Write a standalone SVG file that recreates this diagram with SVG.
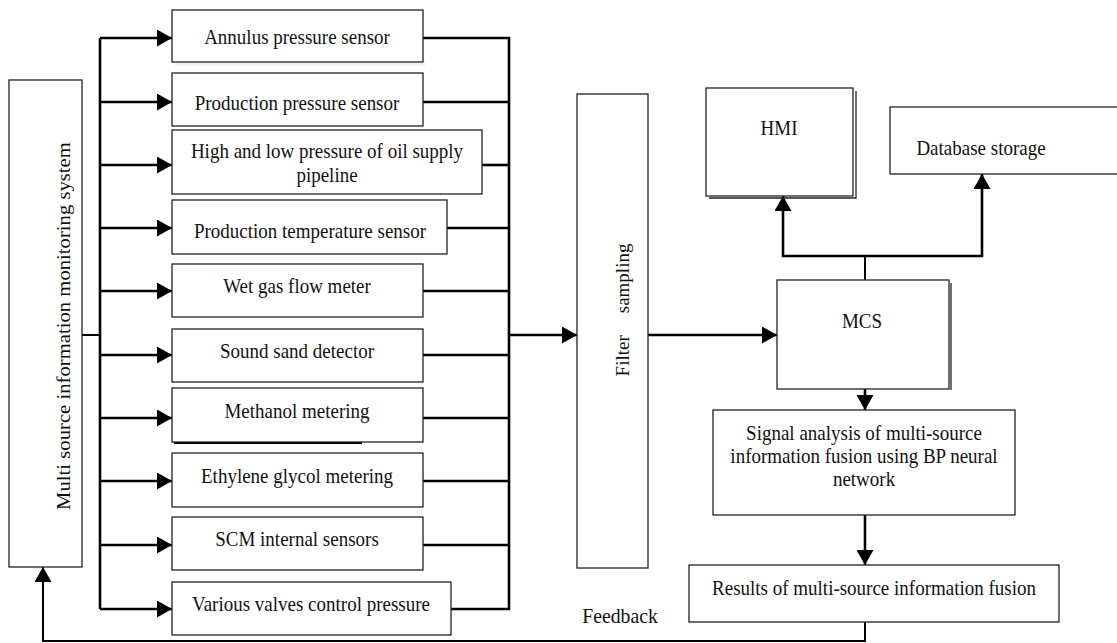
<svg xmlns="http://www.w3.org/2000/svg" width="1117" height="643" viewBox="0 0 1117 643">
  <defs>
    <marker id="arrow" markerUnits="userSpaceOnUse" markerWidth="16" markerHeight="17" refX="15" refY="8.5" orient="auto">
      <path d="M0,0 L15,8.5 L0,17 z" fill="#000"/>
    </marker>
    <style>
      .box { fill: #fff; stroke: #222; stroke-width: 1.3; }
      .shadow { fill: #eef2f8; stroke: none; }
      .lbl { font-size: 20.7px; fill: #111; text-anchor: middle; dominant-baseline: central; }
      .wire { fill: none; stroke: #000; stroke-width: 2.6; }
      .thin { fill: none; stroke: #000; stroke-width: 2; }
    </style>
  </defs>
  <rect width="1117" height="643" fill="#fff"/>

  <!-- connectors -->
  <g id="connectors">
    <!-- monitoring system to sensor trunk -->
    <path class="thin" d="M82,335 H100"/>
    <path class="wire" d="M100,38 V609"/>
    <path class="wire" marker-end="url(#arrow)" d="M100,38 H172"/>
    <path class="wire" marker-end="url(#arrow)" d="M100,102 H172"/>
    <path class="wire" marker-end="url(#arrow)" d="M100,165 H172"/>
    <path class="wire" marker-end="url(#arrow)" d="M100,228 H172"/>
    <path class="wire" marker-end="url(#arrow)" d="M100,291 H172"/>
    <path class="wire" marker-end="url(#arrow)" d="M100,355 H172"/>
    <path class="wire" marker-end="url(#arrow)" d="M100,418 H172"/>
    <path class="wire" marker-end="url(#arrow)" d="M100,481 H172"/>
    <path class="wire" marker-end="url(#arrow)" d="M100,545 H172"/>
    <path class="wire" marker-end="url(#arrow)" d="M100,609 H172"/>
    <!-- sensor outputs to collector trunk -->
    <path class="wire" d="M423,38 H509 V609 H451"/>
    <path class="wire" d="M423,102 H509"/>
    <path class="wire" d="M482,165 H509"/>
    <path class="wire" d="M447,228 H509"/>
    <path class="wire" d="M423,291 H509"/>
    <path class="wire" d="M423,355 H509"/>
    <path class="wire" d="M423,418 H509"/>
    <path class="wire" d="M423,481 H509"/>
    <path class="wire" d="M423,545 H509"/>
    <!-- collector to filter, filter to MCS -->
    <path class="wire" marker-end="url(#arrow)" d="M509,335 H577"/>
    <path class="wire" marker-end="url(#arrow)" d="M648,335 H777"/>
    <!-- MCS to HMI and database -->
    <path class="thin" d="M865,280 V256"/>
    <path class="wire" marker-end="url(#arrow)" d="M865,256 H783 V196"/>
    <path class="wire" marker-end="url(#arrow)" d="M865,256 H982 V174"/>
    <!-- MCS to analysis, analysis to results -->
    <path class="wire" marker-end="url(#arrow)" d="M865,389 V410"/>
    <path class="wire" marker-end="url(#arrow)" d="M865,515 V565"/>
    <!-- feedback loop -->
    <path class="thin" marker-end="url(#arrow)" d="M865,622 V641 H43 V567"/>
  </g>

  <!-- labels are set slightly condensed: scale(0.918,1) -->
  <g font-family="Liberation Serif, DejaVu Serif, serif">
  <!-- monitoring system -->
  <g id="monitoring-system">
    <rect class="box" x="9" y="80" width="73" height="487"/>
    <text class="lbl" transform="translate(63,326) rotate(-90) scale(1,0.918)">Multi source information monitoring system</text>
  </g>

  <!-- sensors -->
  <g id="annulus-pressure">
    <rect class="shadow" x="175" y="62" width="250" height="4"/>
    <rect class="box" x="172" y="10" width="251" height="52"/>
    <text class="lbl" transform="translate(297,37) scale(0.918,1)">Annulus pressure sensor</text>
  </g>
  <g id="production-pressure">
    <rect class="box" x="172" y="73" width="251" height="53"/>
    <text class="lbl" transform="translate(297,103) scale(0.918,1)">Production pressure sensor</text>
  </g>
  <g id="oil-supply-pressure">
    <rect class="box" x="172" y="130" width="310" height="64"/>
    <text class="lbl" transform="translate(327,151) scale(0.918,1)">High and low pressure of oil supply</text>
    <text class="lbl" transform="translate(327,175) scale(0.918,1)">pipeline</text>
  </g>
  <g id="production-temperature">
    <rect class="box" x="172" y="200" width="275" height="54"/>
    <text class="lbl" transform="translate(310,231) scale(0.918,1)">Production temperature sensor</text>
  </g>
  <g id="wet-gas-flow">
    <rect class="box" x="172" y="264" width="251" height="53"/>
    <text class="lbl" transform="translate(297,286) scale(0.918,1)">Wet gas flow meter</text>
  </g>
  <g id="sand-detector">
    <rect class="box" x="172" y="329" width="251" height="53"/>
    <text class="lbl" transform="translate(297,351) scale(0.918,1)">Sound sand detector</text>
  </g>
  <g id="methanol-metering">
    <path class="thin" d="M174,443 H362" stroke-width="1.6"/>
    <rect class="box" x="172" y="388" width="251" height="54"/>
    <text class="lbl" transform="translate(297,411) scale(0.918,1)">Methanol metering</text>
  </g>
  <g id="glycol-metering">
    <rect class="box" x="172" y="453" width="251" height="54"/>
    <text class="lbl" transform="translate(297,476) scale(0.918,1)">Ethylene glycol metering</text>
  </g>
  <g id="scm-sensors">
    <rect class="box" x="172" y="517" width="251" height="53"/>
    <text class="lbl" transform="translate(297,539) scale(0.918,1)">SCM internal sensors</text>
  </g>
  <g id="valve-pressure">
    <rect class="box" x="172" y="582" width="279" height="53"/>
    <text class="lbl" transform="translate(311,604) scale(0.918,1)">Various valves control pressure</text>
  </g>

  <!-- filter sampling -->
  <g id="filter-sampling">
    <rect class="box" x="577" y="94" width="71" height="474"/>
    <text class="lbl" style="font-size:19px" transform="translate(622,310) rotate(-90)">Filter<tspan dx="22">sampling</tspan></text>
  </g>

  <!-- MCS -->
  <g id="mcs">
    <path d="M951,283 V390" stroke="#222" stroke-width="1.3" fill="none"/>
    <rect class="box" x="777" y="280" width="172" height="109"/>
    <text class="lbl" transform="translate(862,321) scale(0.918,1)">MCS</text>
  </g>

  <!-- HMI -->
  <g id="hmi">
    <path d="M856,91 V198 H709" stroke="#222" stroke-width="1.3" fill="none"/>
    <rect class="box" x="706" y="88" width="147" height="108"/>
    <text class="lbl" transform="translate(779,128) scale(0.918,1)">HMI</text>
  </g>

  <!-- database -->
  <g id="database">
    <rect class="box" x="890" y="107" width="230" height="67"/>
    <text class="lbl" transform="translate(981,148) scale(0.918,1)">Database storage</text>
  </g>

  <!-- BP analysis -->
  <g id="bp-analysis">
    <rect class="box" x="713" y="410" width="302" height="105"/>
    <text class="lbl" transform="translate(864,433) scale(0.918,1)">Signal analysis of multi-source</text>
    <text class="lbl" transform="translate(864,456) scale(0.918,1)">information fusion using BP neural</text>
    <text class="lbl" transform="translate(864,479) scale(0.918,1)">network</text>
  </g>

  <!-- fusion results -->
  <g id="fusion-results">
    <rect class="box" x="689" y="565" width="370" height="57"/>
    <text class="lbl" transform="translate(874,588) scale(0.918,1)">Results of multi-source information fusion</text>
  </g>

  <text class="lbl" style="font-size:21.5px" transform="translate(620,616) scale(0.918,1)">Feedback</text>
  </g>
</svg>
